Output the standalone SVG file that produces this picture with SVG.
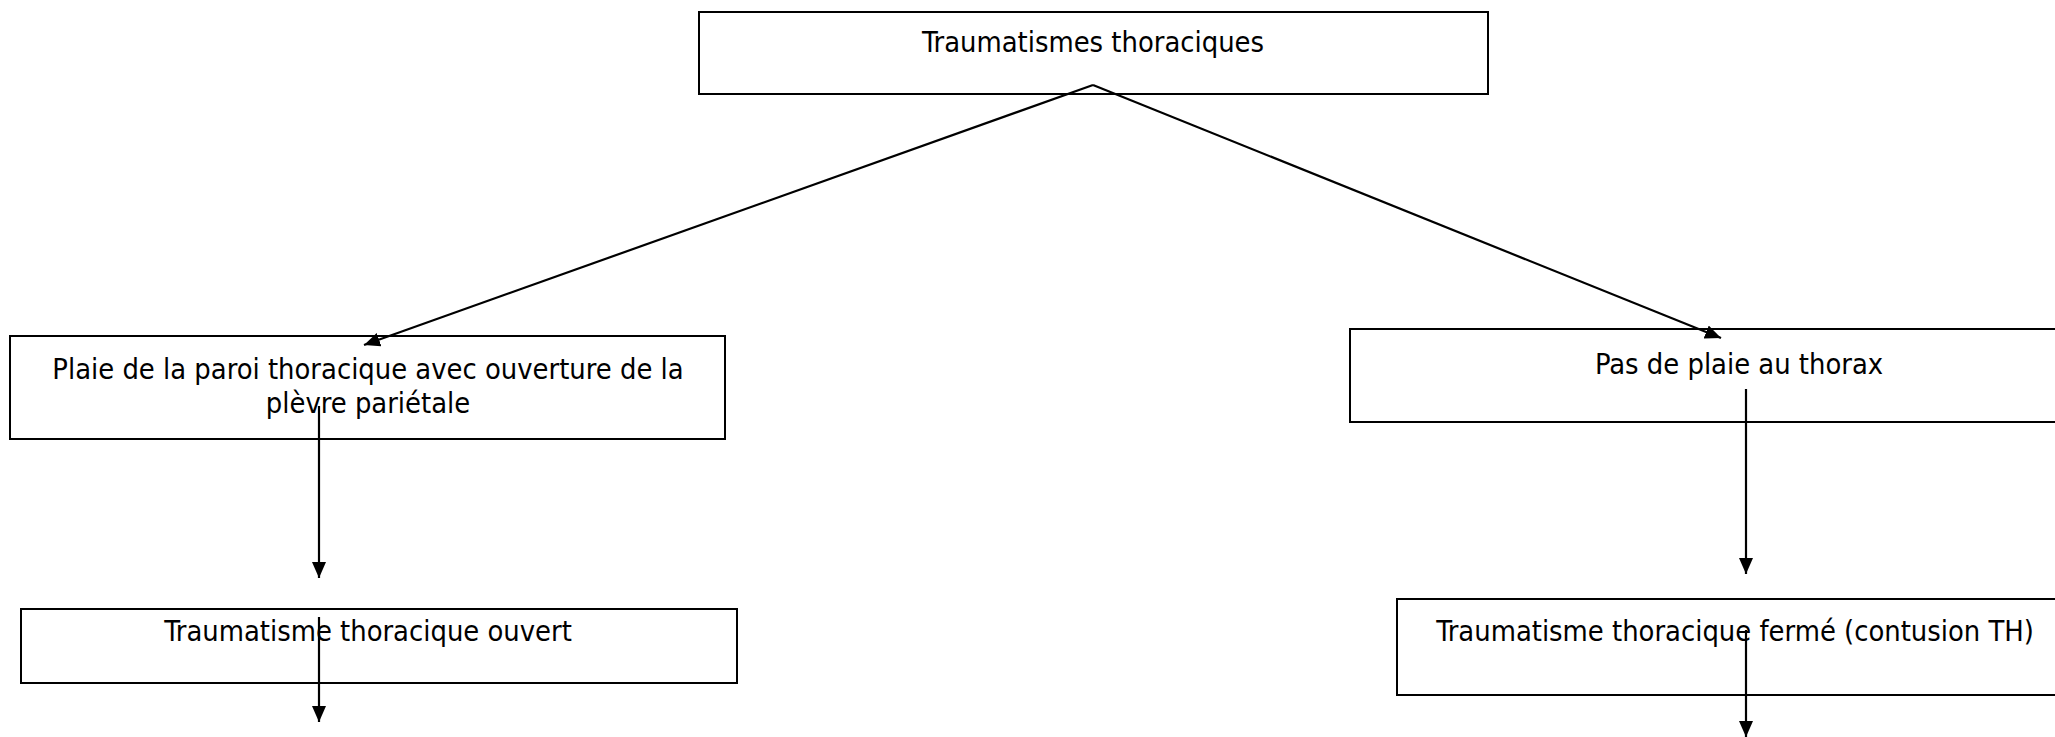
<svg xmlns="http://www.w3.org/2000/svg" width="2055" height="737" viewBox="0 0 2055 737">
<style>
.box{fill:#fff;stroke:#000;stroke-width:2}
.t{font-family:"DejaVu Sans Condensed","Liberation Sans",sans-serif;font-size:28.8px;fill:#000;text-anchor:middle}
.c{stroke:#000;stroke-width:2.2;fill:none;marker-end:url(#ah)}
</style>
<defs>
<marker id="ah" viewBox="0 0 16 14" refX="16" refY="7" markerWidth="16" markerHeight="14" markerUnits="userSpaceOnUse" orient="auto">
<path d="M0,0 L16,7 L0,14 Z" fill="#000"/>
</marker>
</defs>
<g id="n1"><rect class="box" x="699" y="12" width="789" height="82"/><text class="t" x="1093" y="52">Traumatismes thoraciques</text></g>
<g id="n2"><rect class="box" x="10" y="336" width="715" height="103"/><text class="t" x="368" y="379">Plaie de la paroi thoracique avec ouverture de la</text><text class="t" x="368" y="413">plèvre pariétale</text></g>
<g id="n3"><rect class="box" x="1350" y="329" width="720" height="93"/><text class="t" x="1739" y="374">Pas de plaie au thorax</text></g>
<g id="n4"><rect class="box" x="21" y="609" width="716" height="74"/><text class="t" x="368" y="641">Traumatisme thoracique ouvert</text></g>
<g id="n5"><rect class="box" x="1397" y="599" width="700" height="96"/><text class="t" x="1735" y="641">Traumatisme thoracique fermé (contusion TH)</text></g>
<g id="connectors">
<line class="c" x1="1093" y1="85" x2="364" y2="345"/>
<line class="c" x1="1093" y1="85" x2="1721" y2="338"/>
<line class="c" x1="319" y1="406" x2="319" y2="578"/>
<line class="c" x1="319" y1="617" x2="319" y2="722"/>
<line class="c" x1="1746" y1="389" x2="1746" y2="574"/>
<line class="c" x1="1746" y1="630" x2="1746" y2="737"/>
</g>
</svg>
